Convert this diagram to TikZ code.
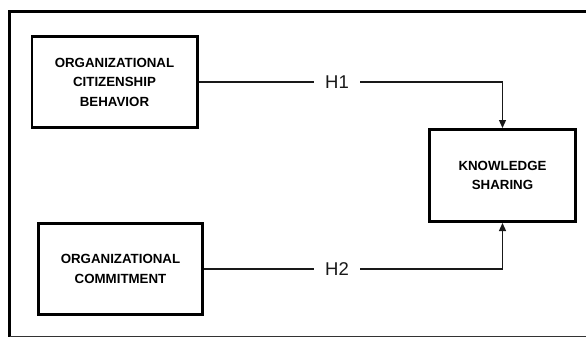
\documentclass[tikz,border=0pt]{standalone}
\usepackage{fontspec}
\setmainfont{Liberation Sans}
\usetikzlibrary{arrows.meta}
\begin{document}
\begin{tikzpicture}[x=1pt,y=-1pt,
  concept/.style={draw=black, line width=2.7pt, align=center, inner sep=0pt,
    font=\fontsize{13.3}{19.5}\selectfont\bfseries, text=black},
  hyp/.style={fill=white, inner xsep=11pt, inner ysep=2pt, font=\fontsize{18.5}{20}\selectfont, text=black!90},
  conn/.style={line width=1.2pt, draw=black!90},
  tip/.style={-{Triangle[length=8pt,width=7pt]}}
]
\useasboundingbox (0,0) rectangle (586,337);
\begin{scope}
\clip (0,0) rectangle (586,337);
\draw[line width=3.5pt] (9.5,340) -- (9.5,11.5) -- (600,11.5);
\draw[line width=1pt, draw=black!80] (9.5,336) -- (600,336);
\end{scope}
\node[concept, minimum width=165.3pt, minimum height=91.3pt] (ocb) at (114.5,82)
  {ORGANIZATIONAL\\CITIZENSHIP\\BEHAVIOR};
\node[concept, minimum width=164.3pt, minimum height=91.3pt] (oc) at (120.5,269)
  {ORGANIZATIONAL\\COMMITMENT};
\node[concept, minimum width=146.3pt, minimum height=92.3pt] (ks) at (502.5,175.5)
  {KNOWLEDGE\\SHARING};
\node[hyp] (h1) at (337,82) {H1};
\node[hyp] (h2) at (337,269) {H2};
\draw[conn] (ocb.east) -- (h1.west);
\draw[conn, tip] (h1.east) -| (ks.north);
\draw[conn] (oc.east) -- (h2.west);
\draw[conn, tip] (h2.east) -| (ks.south);
\end{tikzpicture}
\end{document}
